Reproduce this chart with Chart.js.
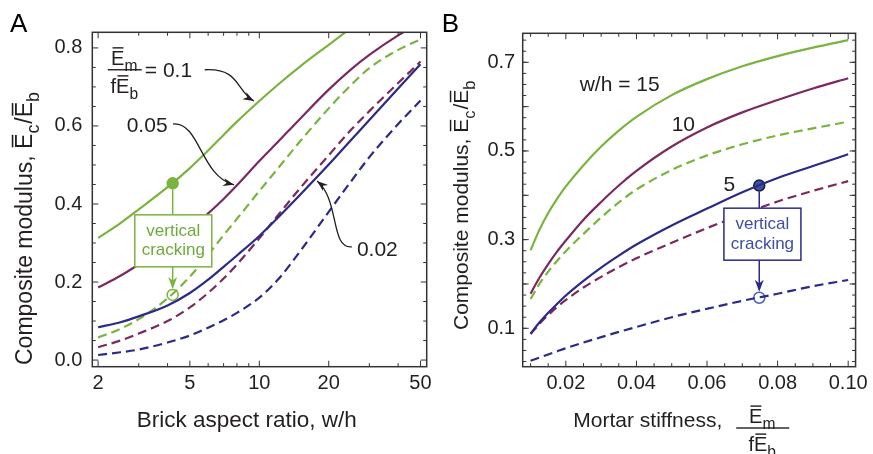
<!DOCTYPE html>
<html lang="en">
<head>
<meta charset="UTF-8"/>
<title>Composite modulus vs aspect ratio and mortar stiffness</title>
<script src="https://cdn.jsdelivr.net/npm/chart.js"></script>
<style>
  body { margin: 0; background: #fff; }
  #wrap { position: relative; width: 873px; height: 454px; }
  canvas { position: absolute; top: 0; }
</style>
</head>
<body>
<div id="wrap">
  <canvas id="chartA" width="437" height="454" style="left:0"></canvas>
  <canvas id="chartB" width="436" height="454" style="left:437px"></canvas>
</div>
<script>
// ---- Panel A: modulus vs brick aspect ratio (log axis) ----
const aspect = [2, 2.5, 3, 4, 5, 6, 7, 8, 10, 12, 15, 20, 25, 30, 40, 50]
const aIntact010  = [0.313, 0.351, 0.386, 0.443, 0.492, 0.537, 0.577, 0.611, 0.664, 0.705, 0.752, 0.808, 0.851, 0.884, 0.930, 0.960]
const aIntact005  = [0.186, 0.216, 0.245, 0.292, 0.335, 0.376, 0.413, 0.448, 0.510, 0.558, 0.618, 0.693, 0.745, 0.782, 0.832, 0.865]
const aIntact002  = [0.084, 0.097, 0.112, 0.140, 0.172, 0.206, 0.239, 0.268, 0.318, 0.364, 0.423, 0.501, 0.564, 0.615, 0.696, 0.758]
const aCracked010 = [0.058, 0.080, 0.105, 0.158, 0.214, 0.270, 0.320, 0.362, 0.433, 0.490, 0.560, 0.645, 0.705, 0.748, 0.795, 0.822]
const aCracked005 = [0.033, 0.050, 0.068, 0.100, 0.135, 0.172, 0.209, 0.245, 0.312, 0.370, 0.440, 0.525, 0.590, 0.638, 0.710, 0.765]
const aCracked002 = [0.013, 0.020, 0.027, 0.045, 0.063, 0.083, 0.102, 0.121, 0.160, 0.205, 0.278, 0.380, 0.458, 0.520, 0.605, 0.665]
const aCrack = { x: 4.21, intact: 0.453, cracked: 0.167 }
const aXTicks = [2, 5, 10, 20, 50]
const aXMinor = [3, 4, 6, 7, 8, 9, 30, 40]
const aYTicks = [0, 0.2, 0.4, 0.6, 0.8]

// ---- Panel B: modulus vs mortar stiffness ----
const stiffness = [0.01, 0.0125, 0.015, 0.0175, 0.02, 0.025, 0.03, 0.035, 0.04, 0.05, 0.06, 0.07, 0.08, 0.09, 0.1]
const bIntact15  = [0.276, 0.322, 0.360, 0.392, 0.420, 0.468, 0.510, 0.546, 0.577, 0.626, 0.662, 0.691, 0.714, 0.733, 0.750]
const bIntact10  = [0.178, 0.214, 0.245, 0.273, 0.298, 0.345, 0.385, 0.422, 0.455, 0.510, 0.553, 0.587, 0.615, 0.641, 0.664]
const bIntact5   = [0.088, 0.113, 0.135, 0.155, 0.174, 0.207, 0.237, 0.264, 0.289, 0.332, 0.370, 0.407, 0.439, 0.466, 0.4925]
const bCracked15 = [0.166, 0.200, 0.228, 0.252, 0.274, 0.313, 0.350, 0.384, 0.413, 0.457, 0.490, 0.515, 0.535, 0.551, 0.566]
const bCracked10 = [0.087, 0.110, 0.130, 0.148, 0.164, 0.192, 0.216, 0.238, 0.258, 0.293, 0.326, 0.357, 0.386, 0.410, 0.432]
const bCracked5  = [0.027, 0.034, 0.041, 0.048, 0.055, 0.068, 0.080, 0.092, 0.103, 0.125, 0.144, 0.162, 0.178, 0.195, 0.209]
const bCrack = { x: 0.0748, intact: 0.422, cracked: 0.169 }
const bXTicks = [0.02, 0.04, 0.06, 0.08, 0.10]
const bYTicks = [0.1, 0.3, 0.5, 0.7]

const FONT = '"Liberation Sans", Arial, Helvetica, sans-serif'
const INK = '#231f20'
const GREEN = '#7ab43e'
const PURPLE = '#7b2a5e'
const NAVY = '#2c2a88'

function pts(xs, ys) { return xs.map((x, i) => ({ x, y: ys[i] })) }

function curve(xs, ys, color, dashed) {
  return {
    data: pts(xs, ys), showLine: true, borderColor: color, borderWidth: 2.2,
    borderDash: dashed ? [9, 5] : [], pointRadius: 0, cubicInterpolationMode: 'monotone', fill: false
  }
}

function marker(x, y, fill, stroke) {
  return { data: [{ x, y }], showLine: false, pointRadius: 5.5, pointBackgroundColor: fill, pointBorderColor: stroke, pointBorderWidth: 1.5 }
}

function range(a, b, step) {
  const out = []
  for (let v = a; v <= b + 1e-9; v += step) out.push(+v.toFixed(4))
  return out
}

// text with overbars and subscripts: parts = [[text, 'bar'|'sub'|'']]
function drawRich(ctx, parts, x, y, size, measureOnly) {
  let cx = x
  for (const [t, s] of parts) {
    const fs = s === 'sub' ? size * 0.78 : size
    ctx.font = fs + 'px ' + FONT
    const w = ctx.measureText(t).width
    if (!measureOnly) {
      ctx.fillText(t, cx, y + (s === 'sub' ? size * 0.3 : 0))
      if (s === 'bar') ctx.fillRect(cx + size * 0.07, y - size * 0.88, w - size * 0.12, Math.max(1.2, size * 0.07))
    }
    cx += w + (s === 'sub' ? 1 : 0)
  }
  return cx - x
}

function drawFraction(ctx, num, den, cx, lineY, size, minW) {
  const wn = drawRich(ctx, num, 0, 0, size, true)
  const wd = drawRich(ctx, den, 0, 0, size, true)
  const w = Math.max(wn, wd, minW || 0) + 2
  ctx.fillRect(cx - w / 2, lineY - 0.7, w, 1.4)
  drawRich(ctx, num, cx - wn / 2, lineY - 5, size)
  drawRich(ctx, den, cx - wd / 2, lineY + size * 1.15, size)
  return w
}

function arrowHead(ctx, tip, from, len, half) {
  const dx = tip[0] - from[0], dy = tip[1] - from[1]
  const d = Math.hypot(dx, dy), ux = dx / d, uy = dy / d
  ctx.beginPath()
  ctx.moveTo(tip[0], tip[1])
  ctx.lineTo(tip[0] - ux * len - uy * half, tip[1] - uy * len + ux * half)
  ctx.lineTo(tip[0] - ux * len * 0.7, tip[1] - uy * len * 0.7)
  ctx.lineTo(tip[0] - ux * len + uy * half, tip[1] - uy * len - ux * half)
  ctx.closePath()
  ctx.fill()
}

function makePanel(canvas, cfg) {
  const deco = {
    id: 'deco',
    afterDatasetsDraw(chart) {
      const ctx = chart.ctx, sx = chart.scales.x, sy = chart.scales.y
      const P = (x, y) => [sx.getPixelForValue(x), sy.getPixelForValue(y)]
      ctx.save()
      // vertical cracking connector and box
      const c = cfg.crack
      const top = P(c.x, c.intact), bot = P(c.x, c.cracked)
      ctx.strokeStyle = cfg.crackColor
      ctx.fillStyle = cfg.crackColor
      ctx.lineWidth = 1.5
      ctx.beginPath()
      ctx.moveTo(top[0], top[1] + 6)
      ctx.lineTo(bot[0], bot[1] - 8)
      ctx.stroke()
      arrowHead(ctx, [bot[0], bot[1] - 6], [bot[0], bot[1] - 20], 12, 4.5)
      const bc = P(cfg.box.x, cfg.box.y)
      ctx.fillStyle = '#fff'
      ctx.fillRect(bc[0] - 38.5, bc[1] - 26, 77, 52)
      ctx.strokeStyle = cfg.boxColor
      ctx.strokeRect(bc[0] - 38.5, bc[1] - 26, 77, 52)
      ctx.fillStyle = cfg.boxText
      ctx.font = '17px ' + FONT
      ctx.textAlign = 'center'
      ctx.textBaseline = 'alphabetic'
      ctx.fillText('vertical', bc[0], bc[1] - 5)
      ctx.fillText('cracking', bc[0], bc[1] + 14.5)
      // curve labels
      ctx.fillStyle = INK
      ctx.strokeStyle = INK
      ctx.textBaseline = 'middle'
      for (const l of cfg.labels) {
        const p = P(l.x, l.y)
        ctx.font = '21px ' + FONT
        ctx.textAlign = l.align || 'left'
        ctx.fillText(l.text, p[0], p[1])
      }
      ctx.textBaseline = 'alphabetic'
      ctx.textAlign = 'left'
      if (cfg.fraction) {
        const f = cfg.fraction
        const p = P(f.x, f.y)
        const w = drawFraction(ctx, [['E', 'bar'], ['m', 'sub']], [['f', ''], ['E', 'bar'], ['b', 'sub']], p[0], p[1], 20, 32)
        ctx.font = '21px ' + FONT
        ctx.fillText('= 0.1', p[0] + w / 2 + 3, p[1] + 7.5)
      }
      // curved leader arrows
      ctx.lineWidth = 1.3
      for (const a of cfg.arrows) {
        const p0 = P(a.from[0], a.from[1]), p3 = P(a.to[0], a.to[1])
        const c1 = [p0[0] + a.c1[0], p0[1] + a.c1[1]], c2 = [p3[0] + a.c2[0], p3[1] + a.c2[1]]
        ctx.beginPath()
        ctx.moveTo(p0[0], p0[1])
        ctx.bezierCurveTo(c1[0], c1[1], c2[0], c2[1], p3[0], p3[1])
        ctx.stroke()
        arrowHead(ctx, p3, c2, 11, 4)
      }
      ctx.restore()
    },
    afterDraw(chart) {
      const ctx = chart.ctx, a = chart.chartArea, sx = chart.scales.x, sy = chart.scales.y
      ctx.save()
      ctx.strokeStyle = '#333'
      ctx.lineWidth = 1
      const tickX = (vals, len) => vals.forEach(v => {
        const px = sx.getPixelForValue(v)
        ctx.beginPath()
        ctx.moveTo(px, a.bottom); ctx.lineTo(px, a.bottom - len)
        ctx.moveTo(px, a.top); ctx.lineTo(px, a.top + len)
        ctx.stroke()
      })
      const tickY = (vals, len) => vals.forEach(v => {
        const py = sy.getPixelForValue(v)
        ctx.beginPath()
        ctx.moveTo(a.left, py); ctx.lineTo(a.left + len, py)
        ctx.moveTo(a.right, py); ctx.lineTo(a.right - len, py)
        ctx.stroke()
      })
      tickX(cfg.xMajor, 6); tickX(cfg.xMinor, 3.5)
      tickY(cfg.yMajor, 6); tickY(cfg.yMinor, 3.5)
      ctx.lineWidth = 1.5
      ctx.strokeRect(a.left, a.top, a.right - a.left, a.bottom - a.top)
      // panel letter
      ctx.fillStyle = '#000'
      ctx.font = '26px ' + FONT
      ctx.fillText(cfg.letter, cfg.letterX, 31.5)
      // y axis title
      ctx.fillStyle = INK
      ctx.save()
      ctx.translate(cfg.yTitleX, cfg.yTitleStart)
      ctx.rotate(-Math.PI / 2)
      const ys = cfg.yTitleSize
      let w = drawRich(ctx, [['Composite modulus, ', '']], 0, 0, ys)
      drawRich(ctx, [['E', 'bar'], ['c', 'sub'], ['/', ''], ['E', 'bar'], ['b', 'sub']], w, 0, ys)
      ctx.restore()
      // x axis title
      cfg.xTitle(ctx, a)
      ctx.restore()
    }
  }

  return new Chart(canvas, {
    type: 'scatter',
    data: { datasets: cfg.datasets },
    options: {
      responsive: false, animation: false, events: [],
      layout: { padding: cfg.padding },
      plugins: { legend: { display: false }, tooltip: { enabled: false } },
      scales: {
        x: {
          type: cfg.xType, min: cfg.xMin, max: cfg.xMax, bounds: 'data',
          grid: { display: false, drawTicks: false }, border: { display: false },
          ticks: { font: { family: FONT, size: 20 }, color: INK, padding: 5, maxRotation: 0, autoSkip: false, callback: v => cfg.xFmt(v) },
          afterBuildTicks: s => { s.ticks = cfg.xTicks.map(v => ({ value: v })) },
          afterFit: s => { s.height = cfg.xAxisHeight }
        },
        y: {
          type: 'linear', min: cfg.yMin, max: cfg.yMax, bounds: 'data',
          grid: { display: false, drawTicks: false }, border: { display: false },
          ticks: { font: { family: FONT, size: 20 }, color: INK, padding: cfg.yPad, autoSkip: false, callback: v => v.toFixed(1) },
          afterBuildTicks: s => { s.ticks = cfg.yTicks.map(v => ({ value: v })) },
          afterFit: s => { s.width = cfg.yAxisWidth }
        }
      }
    },
    plugins: [deco]
  })
}

makePanel(document.getElementById('chartA'), {
  datasets: [
    curve(aspect, aIntact010, GREEN, false),
    curve(aspect, aIntact005, PURPLE, false),
    curve(aspect, aIntact002, NAVY, false),
    curve(aspect, aCracked010, GREEN, true),
    curve(aspect, aCracked005, PURPLE, true),
    curve(aspect, aCracked002, NAVY, true),
    marker(aCrack.x, aCrack.intact, GREEN, GREEN),
    marker(aCrack.x, aCrack.cracked, '#fff', GREEN)
  ],
  xType: 'logarithmic', xMin: 1.887, xMax: 53.2, yMin: -0.017, yMax: 0.84,
  xTicks: aXTicks, yTicks: aYTicks, xFmt: v => String(v),
  xMajor: aXTicks, xMinor: aXMinor,
  yMajor: aYTicks, yMinor: [0.05, 0.1, 0.15, 0.25, 0.3, 0.35, 0.45, 0.5, 0.55, 0.65, 0.7, 0.75],
  padding: { top: 32.3, right: 10.3, left: 0, bottom: 0 },
  yAxisWidth: 92.3, xAxisHeight: 87.3, yPad: 10,
  crack: aCrack, crackColor: GREEN, boxColor: GREEN, boxText: '#6cab3a',
  box: { x: 4.236, y: 0.3056 },
  labels: [
    { text: '0.05', x: 2.66, y: 0.6 },
    { text: '0.02', x: 26.5, y: 0.282 }
  ],
  fraction: { x: 2.61, y: 0.744 },
  arrows: [
    { from: [5.80, 0.744], to: [9.48, 0.664], c1: [35, -2], c2: [-18, -10] },
    { from: [4.23, 0.605], to: [7.77, 0.449], c1: [27, -2], c2: [-34, -9] },
    { from: [25.2, 0.290], to: [17.8, 0.459], c1: [-22, 2], c2: [23, 19] }
  ],
  letter: 'A', letterX: 10,
  yTitleX: 32, yTitleStart: 365, yTitleSize: 23,
  xTitle: (ctx, a) => {
    ctx.font = '22.5px ' + FONT
    ctx.textAlign = 'center'
    ctx.fillText('Brick aspect ratio, w/h', 246.7, 426.7)
  }
})

makePanel(document.getElementById('chartB'), {
  datasets: [
    curve(stiffness, bIntact15, GREEN, false),
    curve(stiffness, bIntact10, PURPLE, false),
    curve(stiffness, bIntact5, NAVY, false),
    curve(stiffness, bCracked15, GREEN, true),
    curve(stiffness, bCracked10, PURPLE, true),
    curve(stiffness, bCracked5, NAVY, true),
    marker(bCrack.x, bCrack.intact, '#3d4fa2', '#1b1b3a'),
    marker(bCrack.x, bCrack.cracked, '#fff', '#4a60b8')
  ],
  xType: 'linear', xMin: 0.00777, xMax: 0.1021, yMin: 0.0134, yMax: 0.7654,
  xTicks: bXTicks, yTicks: bYTicks, xFmt: v => v.toFixed(2),
  xMajor: bXTicks, xMinor: range(0.01, 0.1, 0.005).filter(v => !bXTicks.some(t => Math.abs(t - v) < 1e-6)),
  yMajor: range(0.1, 0.7, 0.1), yMinor: range(0.025, 0.75, 0.025),
  padding: { top: 33.3, right: 16.3, left: 0, bottom: 0 },
  yAxisWidth: 85.7, xAxisHeight: 87.3, yPad: 7.5,
  crack: bCrack, crackColor: NAVY, boxColor: NAVY, boxText: '#3f4ca6',
  box: { x: 0.0757, y: 0.3123 },
  labels: [
    { text: 'w/h = 15', x: 0.03525, y: 0.649, align: 'center' },
    { text: '10', x: 0.0533, y: 0.5586, align: 'center' },
    { text: '5', x: 0.0663, y: 0.4233, align: 'center' }
  ],
  fraction: null,
  arrows: [],
  letter: 'B', letterX: 4.7,
  yTitleX: 31.3, yTitleStart: 330, yTitleSize: 21,
  xTitle: (ctx, a) => {
    ctx.font = '21px ' + FONT
    ctx.textAlign = 'left'
    ctx.fillText('Mortar stiffness,', 136.3, 427)
    drawFraction(ctx, [['E', 'bar'], ['m', 'sub']], [['f', ''], ['E', 'bar'], ['b', 'sub']], 325.7, 428, 20, 51)
  }
})
</script>
</body>
</html>
